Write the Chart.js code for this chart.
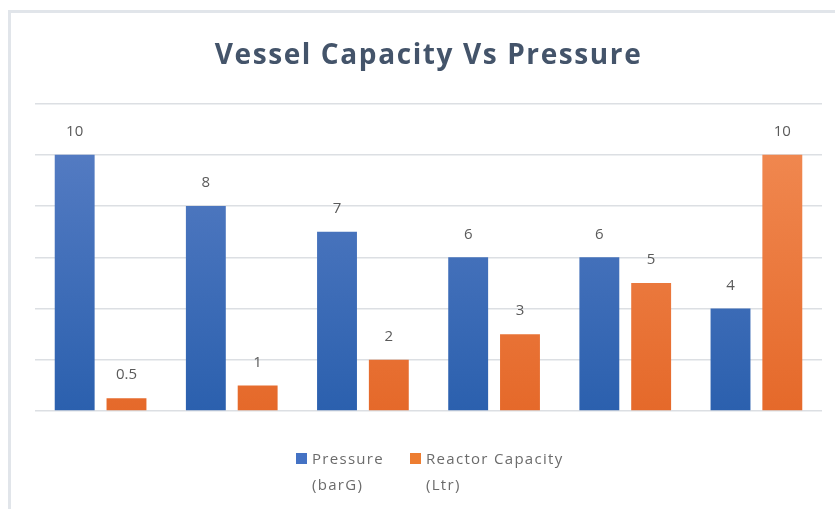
<!DOCTYPE html>
<html lang="en">
<head>
    <meta charset="UTF-8">
    <title>Vessel Capacity Vs Pressure</title>
    <script src="https://cdn.jsdelivr.net/npm/chart.js"></script>
    <style>
        body { margin: 0; background: #fff; overflow: hidden; }
        .frame {
            position: absolute; left: 8px; top: 10px; width: 840px; height: 510px;
            border-top: 3px solid #e1e5ea; border-left: 3px solid #e1e5ea;
        }
        #chart { position: absolute; left: 7px; top: 0; }
        .legend {
            position: absolute; top: 449px; left: 296px;
            font-family: "Open Sans", sans-serif; font-size: 15px; color: #6b6b6b;
            line-height: 26px; letter-spacing: 1.3px;
        }
        .item { position: absolute; top: 0; white-space: nowrap; }
        .box { position: absolute; top: 4px; left: 0; width: 11px; height: 11px; }
        .txt { position: absolute; left: 16px; top: -4px; }
    </style>
</head>
<body>
    <div class="frame"></div>
    <canvas id="chart" width="842" height="509"></canvas>
    <div class="legend">
        <div class="item" style="left:0"><span class="box" style="background:#4472c4"></span><span class="txt">Pressure<br>(barG)</span></div>
        <div class="item" style="left:114px"><span class="box" style="background:#ed7d31"></span><span class="txt">Reactor Capacity<br>(Ltr)</span></div>
    </div>
    <script>
        // data
        const categories = ['1', '2', '3', '4', '5', '6'];
        const pressure = [10, 8, 7, 6, 6, 4];
        const capacity = [0.5, 1, 2, 3, 5, 10];
        const seriesNames = ['Pressure (barG)', 'Reactor Capacity (Ltr)'];

        function grad(top, bottom) {
            return ctx => {
                const area = ctx.chart.chartArea;
                if (!area) return bottom;
                const g = ctx.chart.ctx.createLinearGradient(0, area.top, 0, area.bottom);
                g.addColorStop(0, top);
                g.addColorStop(1, bottom);
                return g;
            };
        }

        // wider spacing for the title only
        const titleSpacing = {
            id: 'titleSpacing',
            beforeDraw(chart) { chart.ctx.letterSpacing = '1.6px'; },
            beforeDatasetsDraw(chart) { chart.ctx.letterSpacing = '0px'; }
        };

        // value labels above the bars
        const barLabels = {
            id: 'barLabels',
            afterDatasetsDraw(chart) {
                const c = chart.ctx;
                c.save();
                c.font = '15px "Open Sans", sans-serif';
                c.fillStyle = '#5a5a5a';
                c.textAlign = 'center';
                c.textBaseline = 'middle';
                chart.data.datasets.forEach((ds, i) => {
                    chart.getDatasetMeta(i).data.forEach((bar, j) => {
                        c.fillText(String(ds.data[j]), bar.x, bar.y - 23);
                    });
                });
                c.restore();
            }
        };

        new Chart(document.getElementById('chart'), {
            type: 'bar',
            data: {
                labels: categories,
                datasets: [
                    {
                        label: seriesNames[0],
                        data: pressure,
                        backgroundColor: grad('#5b80c6', '#2b60ae'),
                        borderWidth: 0
                    },
                    {
                        label: seriesNames[1],
                        data: capacity,
                        backgroundColor: grad('#f28d56', '#e5692a'),
                        borderWidth: 0
                    }
                ]
            },
            options: {
                responsive: false,
                animation: false,
                layout: { padding: { left: 28, right: 27, top: 0, bottom: 98 } },
                datasets: { bar: { categoryPercentage: 0.79, barPercentage: 0.77 } },
                plugins: {
                    legend: { display: false },
                    tooltip: { enabled: false },
                    title: {
                        display: true,
                        text: 'Vessel Capacity Vs Pressure',
                        color: '#44546a',
                        font: { family: '"Open Sans"', size: 28, weight: 'bold' },
                        padding: { top: 39, bottom: 31 }
                    }
                },
                scales: {
                    x: { display: false },
                    y: {
                        min: 0,
                        max: 12,
                        ticks: { display: false, stepSize: 2 },
                        border: { display: false },
                        grid: { color: '#dcdfe3', lineWidth: 1.5, drawTicks: false }
                    }
                }
            },
            plugins: [titleSpacing, barLabels]
        });
    </script>
</body>
</html>
